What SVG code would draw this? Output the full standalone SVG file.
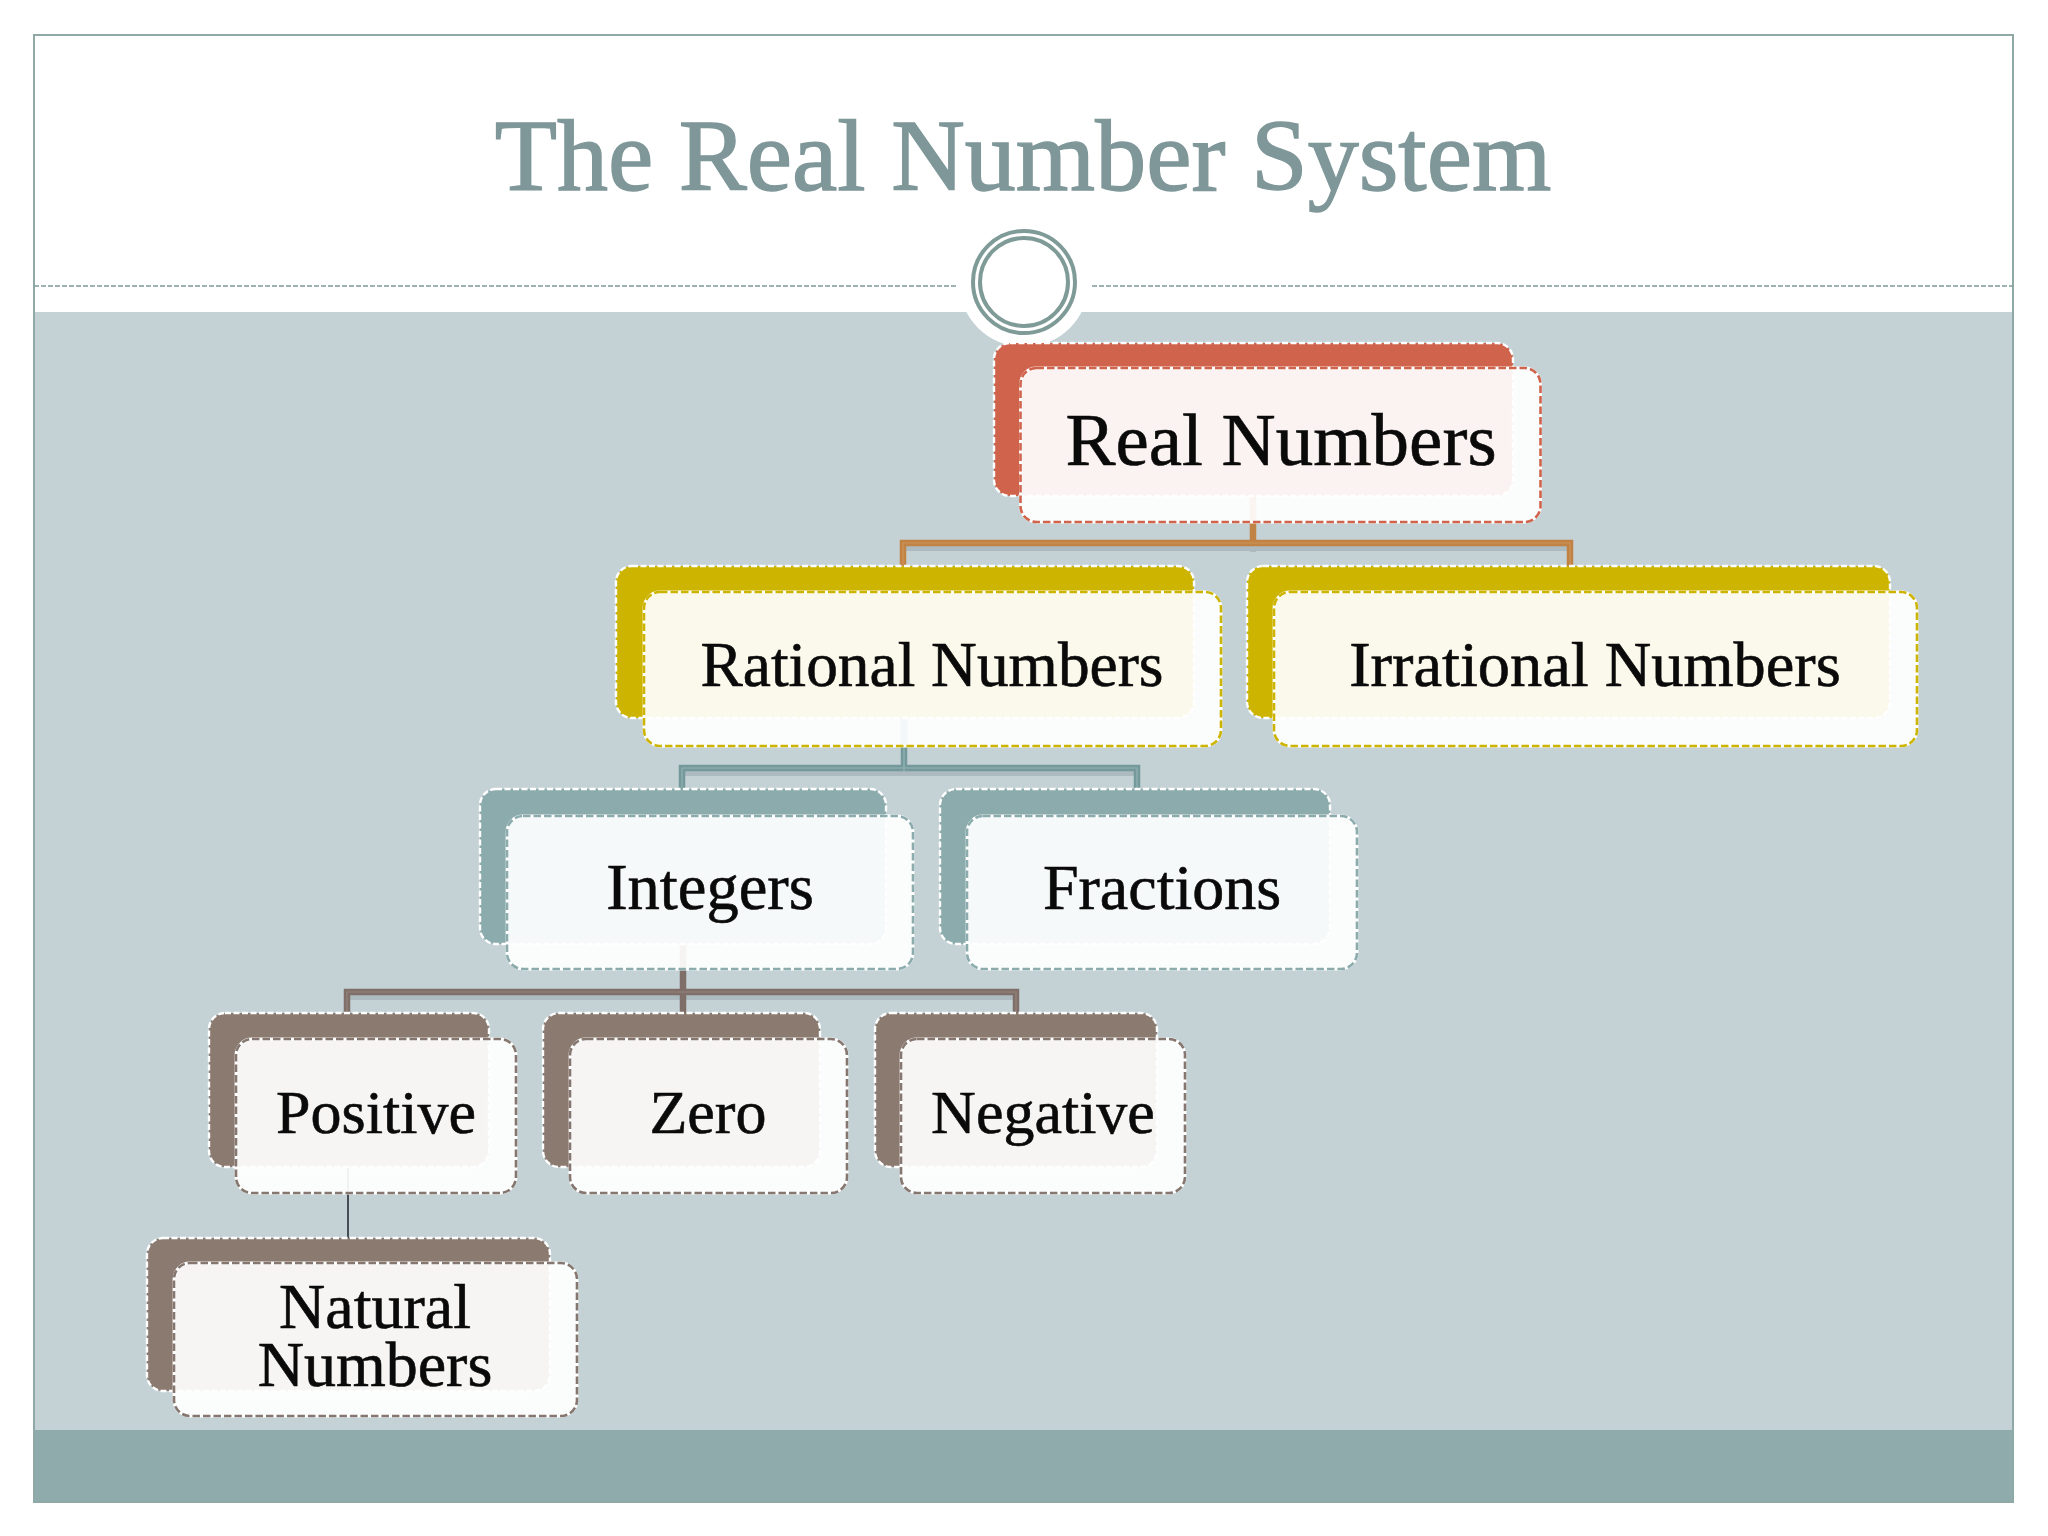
<svg xmlns="http://www.w3.org/2000/svg" width="2048" height="1536" viewBox="0 0 2048 1536">
<style>
.bk{stroke:#fff;stroke-width:2.4;stroke-dasharray:6 2.5}
.fr{fill:#fff;fill-opacity:.92;stroke:#fff;stroke-width:2.8}
.frd{fill:none;stroke-width:2.6;stroke-dasharray:7.500 3}
.t{font-family:"Liberation Serif",serif;fill:#0a0a0a;text-anchor:middle;stroke:#0a0a0a;stroke-width:.6}
.c{fill:none;stroke-linejoin:miter}
.sh{fill:none;stroke:#5a6a70;stroke-width:6;opacity:.22}
.red{fill:#cf634b}.yel{fill:#ccb400}.tea{fill:#8babac}.bro{fill:#8b7a70}
.sr{stroke:#cf634b}.sy{stroke:#ccb400}.st{stroke:#8babac}.sb{stroke:#857670}
</style>
<rect x="0" y="0" width="2048" height="1536" fill="#fff"/>
<rect x="34" y="312" width="1979" height="1118" fill="#c4d2d6"/>
<rect x="34" y="1430" width="1979" height="72" fill="#8fabab"/>
<rect x="34" y="35" width="1979" height="1467" fill="none" stroke="#8fa9a6" stroke-width="2"/>
<g id="header-rule" fill="none">
<path d="M34 286H956M1092 286H2013" stroke="#7f9b98" stroke-width="1.5" stroke-dasharray="5 2"/>
<circle cx="1024" cy="282" r="65" fill="#fff"/>
<circle cx="1024" cy="282" r="51" stroke="#7f9b98" stroke-width="4"/>
<circle cx="1024" cy="282" r="44" stroke="#7f9b98" stroke-width="4"/>
</g>
<text x="1023" y="189.500" font-family="'Liberation Serif',serif" font-size="102" fill="#7f9799" stroke="#7f9799" stroke-width="1.4" text-anchor="middle">The Real Number System</text>
<g id="connectors">
<path class="sh" d="M903 572V548H1570V572M1253 496V552M682 795V773H1137V795M904 718V775M347 1019V997H1016V1019M683 944V1019"/>
<path class="c" stroke="#c08345" stroke-width="6.500" d="M903 566V543H1570V566M1253 496V546"/>
<path class="c" stroke="#cf9459" stroke-width="1.200" d="M903 566V543H1570V566"/>
<path class="c" stroke="#74999b" stroke-width="6.500" d="M682 789V768H1137V789M904 718V771"/>
<path class="c" stroke="#94b3b4" stroke-width="1.200" d="M682 789V768H1137V789M904 746V771"/>
<path class="c" stroke="#7f6f68" stroke-width="6.500" d="M347 1013V992H1016V1013M683 944V1013"/>
<path class="c" stroke="#93837c" stroke-width="1.200" d="M347 1013V992H1016V1013"/>
<path class="c" stroke="#1a2228" stroke-width="1.500" d="M348 1167V1238"/>
</g>
<g id="real-numbers">
<rect class="red bk" x="994" y="343" width="519" height="153" rx="16"/>
<rect class="fr" x="1020.500" y="368" width="520" height="154" rx="16"/>
<rect class="frd sr" x="1020.500" y="368" width="520" height="154" rx="16"/>
<text class="t" x="1281" y="465" font-size="75">Real Numbers</text>
</g>
<g id="rational-numbers">
<rect class="yel bk" x="616" y="566" width="578" height="152" rx="16"/>
<rect class="fr" x="644" y="592" width="577" height="154" rx="16"/>
<rect class="frd sy" x="644" y="592" width="577" height="154" rx="16"/>
<text class="t" x="932" y="686" font-size="63.400">Rational Numbers</text>
</g>
<g id="irrational-numbers">
<rect class="yel bk" x="1247" y="566" width="643" height="152" rx="16"/>
<rect class="fr" x="1274" y="592" width="643" height="154" rx="16"/>
<rect class="frd sy" x="1274" y="592" width="643" height="154" rx="16"/>
<text class="t" x="1595" y="686" font-size="64.400">Irrational Numbers</text>
</g>
<g id="integers">
<rect class="tea bk" x="480" y="789" width="406" height="155" rx="16"/>
<rect class="fr" x="507" y="816" width="406" height="153" rx="16"/>
<rect class="frd st" x="507" y="816" width="406" height="153" rx="16"/>
<text class="t" x="710" y="909" font-size="64.500">Integers</text>
</g>
<g id="fractions">
<rect class="tea bk" x="940" y="789" width="390" height="155" rx="16"/>
<rect class="fr" x="967" y="816" width="390" height="153" rx="16"/>
<rect class="frd st" x="967" y="816" width="390" height="153" rx="16"/>
<text class="t" x="1162" y="909" font-size="64">Fractions</text>
</g>
<g id="positive">
<rect class="bro bk" x="209" y="1013" width="280" height="154" rx="16"/>
<rect class="fr" x="236" y="1039" width="280" height="154" rx="16"/>
<rect class="frd sb" x="236" y="1039" width="280" height="154" rx="16"/>
<text class="t" x="376" y="1133" font-size="62">Positive</text>
</g>
<g id="zero">
<rect class="bro bk" x="543" y="1013" width="277" height="154" rx="16"/>
<rect class="fr" x="570" y="1039" width="277" height="154" rx="16"/>
<rect class="frd sb" x="570" y="1039" width="277" height="154" rx="16"/>
<text class="t" x="708" y="1133" font-size="62">Zero</text>
</g>
<g id="negative">
<rect class="bro bk" x="875" y="1013" width="282" height="154" rx="16"/>
<rect class="fr" x="901" y="1039" width="284" height="154" rx="16"/>
<rect class="frd sb" x="901" y="1039" width="284" height="154" rx="16"/>
<text class="t" x="1043" y="1133" font-size="62">Negative</text>
</g>
<g id="natural-numbers">
<rect class="bro bk" x="147" y="1238" width="403" height="153" rx="16"/>
<rect class="fr" x="174" y="1263" width="403" height="153" rx="16"/>
<rect class="frd sb" x="174" y="1263" width="403" height="153" rx="16"/>
<text class="t" x="375" y="1328" font-size="64">Natural<tspan x="375" dy="58">Numbers</tspan></text>
</g>
</svg>
